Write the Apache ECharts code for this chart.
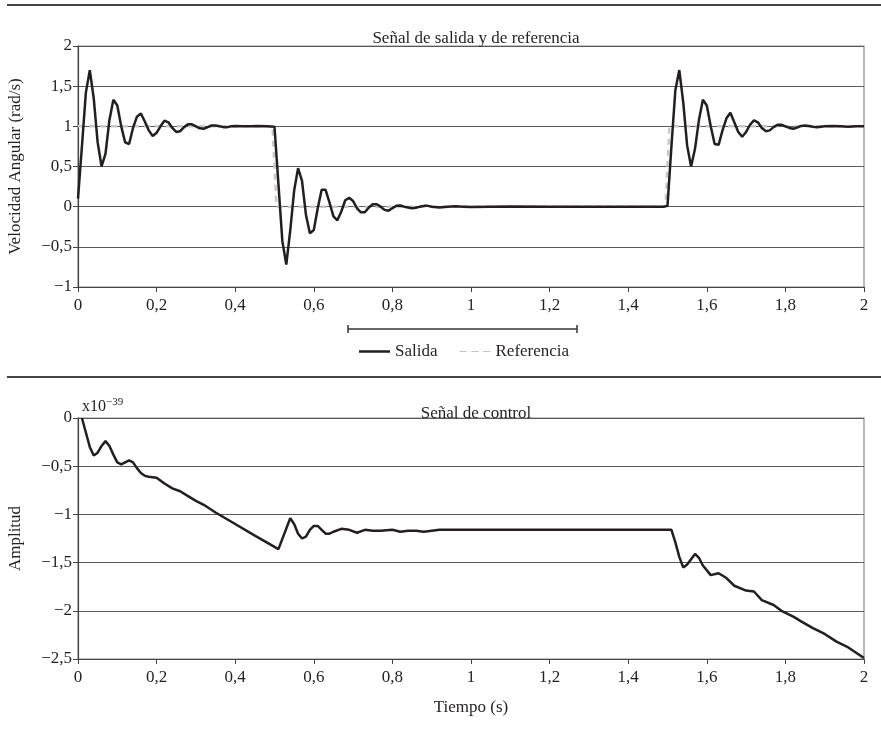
<!DOCTYPE html>
<html>
<head>
<meta charset="utf-8">
<script src="https://cdn.jsdelivr.net/npm/echarts@6/dist/echarts.min.js"></script>
<style>
  html, body { margin: 0; padding: 0; background: #fff; }
  #main { width: 881px; height: 729px; }
</style>
</head>
<body>
<div id="main"></div>
<script>
// Señal de salida (tiempo en s, velocidad en rad/s)
var tSalida = [0, 0.01, 0.02, 0.03, 0.04, 0.05, 0.06, 0.07, 0.08, 0.09, 0.10, 0.11, 0.12, 0.13, 0.14, 0.15, 0.16, 0.17, 0.18, 0.19,
  0.20, 0.21, 0.22, 0.23, 0.24, 0.25, 0.26, 0.27, 0.28, 0.29, 0.30, 0.31, 0.32, 0.33, 0.34, 0.35, 0.36, 0.37, 0.38, 0.39,
  0.40, 0.42, 0.44, 0.46, 0.48, 0.50,
  0.51, 0.52, 0.53, 0.54, 0.55, 0.56, 0.57, 0.58, 0.59, 0.60, 0.61, 0.62, 0.63, 0.64, 0.65, 0.66, 0.67, 0.68, 0.69, 0.70,
  0.71, 0.72, 0.73, 0.74, 0.75, 0.76, 0.77, 0.78, 0.79, 0.80, 0.81, 0.82, 0.83, 0.84, 0.85, 0.86, 0.87, 0.88, 0.89, 0.90,
  0.92, 0.94, 0.96, 0.98, 1.00, 1.05, 1.10, 1.20, 1.30, 1.40, 1.49, 1.50,
  1.51, 1.52, 1.53, 1.54, 1.55, 1.56, 1.57, 1.58, 1.59, 1.60, 1.61, 1.62, 1.63, 1.64, 1.65, 1.66, 1.67, 1.68, 1.69, 1.70,
  1.71, 1.72, 1.73, 1.74, 1.75, 1.76, 1.77, 1.78, 1.79, 1.80, 1.81, 1.82, 1.83, 1.84, 1.85, 1.86, 1.87, 1.88, 1.89, 1.90,
  1.92, 1.94, 1.96, 1.98, 2.00];
var salida = [0.1, 0.75, 1.42, 1.7, 1.35, 0.8, 0.5, 0.66, 1.08, 1.33, 1.26, 1.0, 0.8, 0.78, 0.98, 1.12, 1.16, 1.06, 0.95, 0.88,
  0.92, 1.0, 1.07, 1.05, 0.98, 0.93, 0.94, 0.99, 1.025, 1.025, 1.0, 0.975, 0.97, 0.99, 1.01, 1.01, 1.0, 0.99, 0.99, 1.0,
  1.005, 1.0, 1.0, 1.005, 1.0, 0.995,
  0.28, -0.43, -0.72, -0.3, 0.2, 0.48, 0.32, -0.1, -0.33, -0.29, -0.02, 0.21, 0.21, 0.05, -0.12, -0.17, -0.06, 0.08, 0.11, 0.07,
  -0.02, -0.07, -0.07, -0.01, 0.03, 0.03, 0.0, -0.04, -0.05, -0.02, 0.01, 0.015, 0.0, -0.01, -0.02, -0.015, 0.0, 0.01, 0.01, 0.0,
  -0.01, 0.0, 0.005, 0.0, -0.005, 0.0, 0.003, 0.0, 0.0, 0.0, 0.0, 0.01,
  0.75, 1.45, 1.7, 1.3, 0.76, 0.5, 0.72, 1.08, 1.33, 1.26, 1.0, 0.78, 0.77, 0.95, 1.1, 1.17, 1.05, 0.93, 0.87, 0.93,
  1.02, 1.075, 1.05, 0.98, 0.94, 0.95, 0.99, 1.02, 1.02, 1.0, 0.98, 0.97, 0.985, 1.005, 1.01, 1.005, 0.995, 0.99, 0.995, 1.0,
  1.005, 1.0, 0.995, 1.0, 1.0];

// Señal de referencia
var tReferencia = [0, 0.495, 0.505, 1.495, 1.505, 2];
var referencia = [1, 1, 0, 0, 1, 1];

// Señal de control (x10^-39)
var tControl = [0.01, 0.02, 0.03, 0.04, 0.05, 0.06, 0.07, 0.08, 0.09, 0.10, 0.11, 0.12, 0.13, 0.14, 0.15, 0.16, 0.17, 0.18,
  0.20, 0.22, 0.24, 0.26, 0.28, 0.30, 0.32, 0.35, 0.40, 0.45, 0.51,
  0.54, 0.55, 0.56, 0.57, 0.58, 0.59, 0.60, 0.61, 0.62, 0.63, 0.64, 0.65, 0.67, 0.69, 0.71, 0.73, 0.75, 0.77,
  0.80, 0.82, 0.84, 0.86, 0.88, 0.90, 0.92, 1.0, 1.2, 1.4, 1.51,
  1.52, 1.53, 1.54, 1.55, 1.57, 1.58, 1.59, 1.61, 1.63, 1.65, 1.67, 1.70, 1.72, 1.74, 1.77, 1.79, 1.82, 1.84, 1.87,
  1.90, 1.93, 1.96, 2.0];
var control = [0, -0.15, -0.3, -0.39, -0.36, -0.29, -0.24, -0.29, -0.38, -0.46, -0.48, -0.46, -0.44, -0.46, -0.52, -0.57, -0.6, -0.61,
  -0.62, -0.68, -0.73, -0.76, -0.81, -0.86, -0.9, -0.98, -1.1, -1.22, -1.36,
  -1.04, -1.1, -1.2, -1.25, -1.23, -1.16, -1.12, -1.12, -1.16, -1.2, -1.2, -1.18, -1.15, -1.16, -1.19, -1.16, -1.17, -1.17,
  -1.16, -1.18, -1.17, -1.17, -1.18, -1.17, -1.16, -1.16, -1.16, -1.16, -1.16,
  -1.29, -1.44, -1.55, -1.52, -1.41, -1.45, -1.53, -1.63, -1.61, -1.66, -1.74, -1.79, -1.8, -1.89, -1.94, -2.0, -2.06, -2.11, -2.18,
  -2.24, -2.32, -2.38, -2.49];

function pares(ts, vs) {
  return ts.map(function (t, i) { return [t, vs[i]]; });
}
function fmt(v) {
  var r = Math.round(v * 10) / 10;
  var s = String(Math.abs(r)).replace('.', ',');
  return (r < 0 ? '\u2212' : '') + s;
}

var fuente = 'Liberation Serif';
var tinta = '#231f20';
var rejilla = '#5a5a5a';
var tam = 17;

function ejeX(idx, nombre) {
  return {
    type: 'value', gridIndex: idx, min: 0, max: 2, interval: 0.2,
    name: nombre, nameLocation: 'middle', nameGap: 40,
    nameTextStyle: { fontFamily: fuente, fontSize: tam, color: tinta },
    axisLine: { onZero: false, lineStyle: { color: '#444', width: 1.2 } },
    axisTick: { show: true, length: 5, lineStyle: { color: '#444' } },
    axisLabel: { formatter: fmt, fontFamily: fuente, fontSize: tam, color: tinta, margin: 10 },
    splitLine: { show: false }
  };
}
function ejeY(idx, nombre, min, max) {
  return {
    type: 'value', gridIndex: idx, min: min, max: max, interval: 0.5,
    name: nombre, nameLocation: 'middle', nameGap: 54,
    nameTextStyle: { fontFamily: fuente, fontSize: tam, color: tinta },
    axisLine: { show: true, lineStyle: { color: '#444', width: 1.2 } },
    axisTick: { show: true, length: 5, lineStyle: { color: '#444' } },
    axisLabel: { formatter: fmt, fontFamily: fuente, fontSize: tam, color: tinta, margin: 6 },
    splitLine: { show: true, lineStyle: { color: rejilla, width: 1.2 } }
  };
}

var myChart = echarts.init(document.getElementById('main'));
myChart.setOption({
  backgroundColor: '#fff',
  animation: false,
  title: [
    { text: 'Señal de salida y de referencia', left: 471, top: 25, textAlign: 'center',
      textStyle: { fontFamily: fuente, fontSize: tam, fontWeight: 'normal', color: tinta } },
    { text: 'Señal de control', left: 471, top: 400, textAlign: 'center',
      textStyle: { fontFamily: fuente, fontSize: tam, fontWeight: 'normal', color: tinta } }
  ],
  legend: {
    data: [
      { name: 'Salida', icon: 'rect' },
      { name: 'Referencia', icon: 'path://M0,0h7v1h-7z M11,0h7v1h-7z M22,0h7v1h-7z' }
    ],
    left: 359, top: 343, padding: 0,
    itemWidth: 31, itemHeight: 2.5, itemGap: 22,
    textStyle: { fontFamily: fuente, fontSize: tam, color: tinta }
  },
  grid: [
    { left: 78, right: 17, top: 46, bottom: 442, show: true, borderColor: '#8a8a8a', borderWidth: 1.2,
      containLabel: false, outerBoundsMode: 'none' },
    { left: 78, right: 17, top: 418, bottom: 70, show: true, borderColor: '#8a8a8a', borderWidth: 1.2,
      containLabel: false, outerBoundsMode: 'none' }
  ],
  xAxis: [ejeX(0, ''), ejeX(1, 'Tiempo (s)')],
  yAxis: [ejeY(0, 'Velocidad Angular (rad/s)', -1, 2), ejeY(1, 'Amplitud', -2.5, 0)],
  series: [
    { name: 'Referencia', type: 'line', xAxisIndex: 0, yAxisIndex: 0, symbol: 'none',
      lineStyle: { color: '#c8c8c8', width: 2.5, type: [6, 5] }, itemStyle: { color: '#c4c4c4' },
      data: pares(tReferencia, referencia) },
    { name: 'Salida', type: 'line', xAxisIndex: 0, yAxisIndex: 0, symbol: 'none',
      lineStyle: { color: tinta, width: 2.5 }, itemStyle: { color: tinta },
      data: pares(tSalida, salida), z: 3 },
    { name: 'Control', type: 'line', xAxisIndex: 1, yAxisIndex: 1, symbol: 'none',
      lineStyle: { color: tinta, width: 2.5 }, itemStyle: { color: tinta },
      data: pares(tControl, control) }
  ],
  graphic: [
    { type: 'line', shape: { x1: 7, y1: 5, x2: 881, y2: 5 }, style: { stroke: '#444', lineWidth: 2 } },
    { type: 'line', shape: { x1: 7, y1: 377, x2: 881, y2: 377 }, style: { stroke: '#444', lineWidth: 2 } },
    { type: 'line', shape: { x1: 348, y1: 329, x2: 577, y2: 329 }, style: { stroke: '#333', lineWidth: 1.5 } },
    { type: 'line', shape: { x1: 348, y1: 325, x2: 348, y2: 333 }, style: { stroke: '#333', lineWidth: 1.5 } },
    { type: 'line', shape: { x1: 577, y1: 325, x2: 577, y2: 333 }, style: { stroke: '#333', lineWidth: 1.5 } },
    { type: 'text', left: 82, top: 397,
      style: { text: '{a|x10}{b|\u221239}', fill: tinta,
        rich: { a: { fontFamily: fuente, fontSize: 16, color: tinta },
                b: { fontFamily: fuente, fontSize: 11, color: tinta, verticalAlign: 'top', padding: [0, 0, 8, 0] } } } }
  ]
});
window.addEventListener('resize', function () { myChart.resize(); });
</script>
</body>
</html>
